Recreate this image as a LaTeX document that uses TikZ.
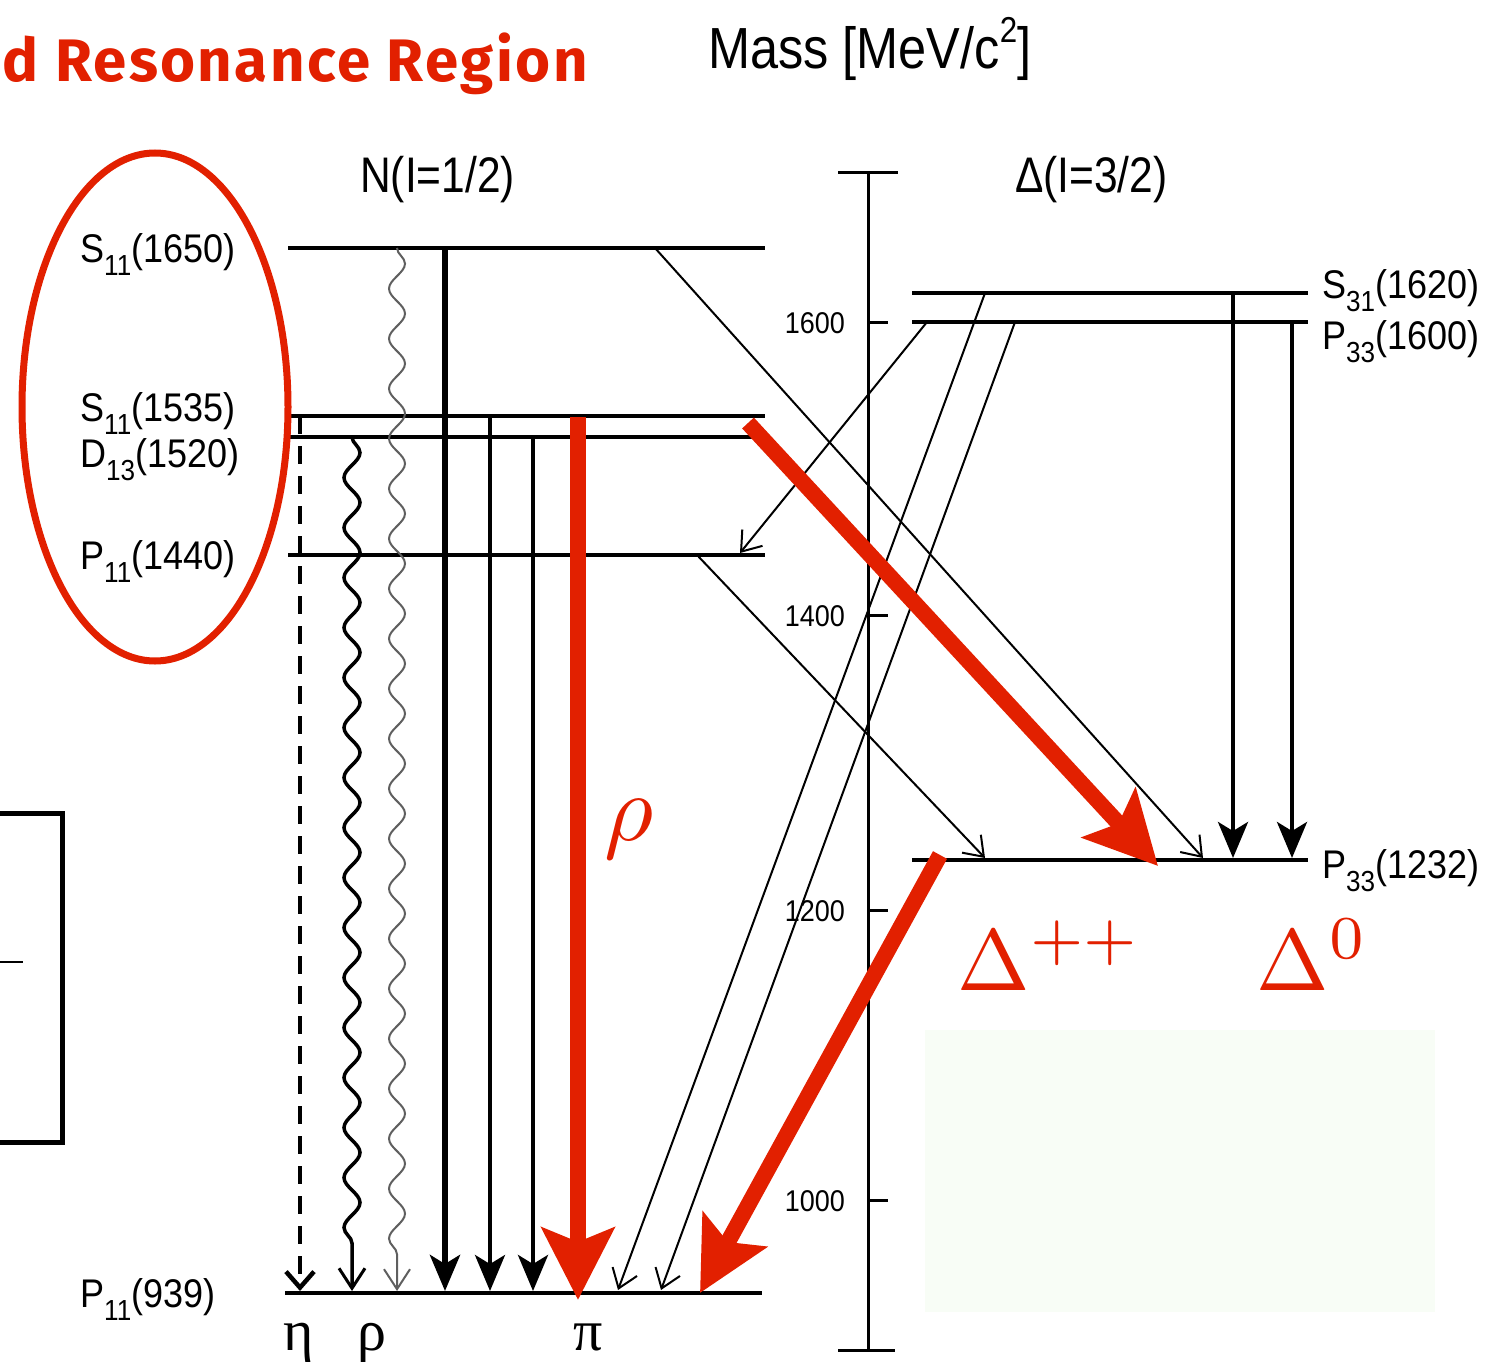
\documentclass[tikz,border=0pt]{standalone}
\usepackage[no-math]{fontspec}
\setmainfont{Liberation Sans}
\newfontfamily\greekfont{Liberation Serif}
\newfontfamily\titlefont{Fira Sans}[LetterSpace=4]
\usetikzlibrary{arrows.meta,decorations.pathmorphing}
\definecolor{hred}{RGB}{226,32,0}
\definecolor{pale}{RGB}{248,253,246}
\definecolor{wgray}{RGB}{95,95,95}
\newcommand\lvlname[3]{#1\raisebox{-13pt}{\fontsize{29}{29}\selectfont #2}(#3)}
\begin{document}
\begin{tikzpicture}[x=1pt,y=-1pt,
  lab/.style={inner sep=0pt, anchor=base west, font=\fontsize{40}{40}\selectfont, xscale=0.9},
  axlab/.style={inner sep=0pt, anchor=base east, font=\fontsize{30}{30}\selectfont, xscale=0.9},
  head/.style={inner sep=0pt, anchor=base west, font=\fontsize{50}{50}\selectfont, xscale=0.85},
  glab/.style={inner sep=0pt, anchor=base west, font=\greekfont\fontsize{58}{58}\selectfont},
  redmath/.style={inner sep=0pt, anchor=base west, text=hred},
  lvlline/.style={line width=3.5pt},
  axisline/.style={line width=3pt},
  thinarr/.style={line width=2pt, -{Straight Barb[length=18pt,width=26pt,line width=2pt]}},
  thickarr/.style={-{Stealth[length=36pt,width=30pt,inset=9pt]}},
  redarr/.style={hred, line width=16pt, -{Stealth[length=72pt,width=72pt,inset=14pt]}},
  wavy/.style={decorate, decoration={snake, segment length=50pt, amplitude=8pt, post length=30pt}},
  etaarr/.style={line width=4.5pt, dash pattern=on 18pt off 12pt, -{Straight Barb[length=16pt,width=28pt,line width=4.5pt]}}
]
\useasboundingbox (0,0) rectangle (1491,1362);
\clip (0,0) rectangle (1491,1362);

% pale box
\fill[pale] (925,1030) rectangle (1435,1312);

% title and headers
\node[inner sep=0pt, anchor=base east, text=hred, font=\titlefont\bfseries\fontsize{60}{60}\selectfont] (title) at (588,82) {d Resonance Region};
\node[inner sep=0pt, anchor=base west, font=\fontsize{58}{58}\selectfont, xscale=0.87] (mass) at (708,69) {Mass [MeV/c\raisebox{26pt}{\fontsize{36}{36}\selectfont 2}]};
\node[head] (hN) at (360,193) {N(I=1/2)};
\node[head] (hD) at (1015,193) {Δ(I=3/2)};

% axis
\coordinate (axtop) at (868,172);
\coordinate (axbot) at (868,1350);
\draw[axisline] (axtop) -- (axbot);
\draw[axisline] (838,172) -- (898,172);
\draw[axisline] (838,1350) -- (895,1350);
\foreach \yy/\lab in {322/1600, 615/1400, 910/1200, 1200/1000} {
  \draw[axisline] (868,\yy) -- (888,\yy);
  \node[axlab] at (845,\yy+11) {\lab};
}

% levels N
\coordinate (n1650w) at (288,248);  \coordinate (n1650e) at (765,248);
\coordinate (n1535w) at (290,416);  \coordinate (n1535e) at (765,416);
\coordinate (n1520w) at (290,437);  \coordinate (n1520e) at (765,437);
\coordinate (n1440w) at (288,555);  \coordinate (n1440e) at (765,555);
\coordinate (n939w)  at (285,1293); \coordinate (n939e)  at (762,1293);
\foreach \a/\b in {n1650w/n1650e, n1535w/n1535e, n1520w/n1520e, n1440w/n1440e, n939w/n939e}
  \draw[lvlline] (\a) -- (\b);
% levels Delta
\coordinate (d1620w) at (912,293);  \coordinate (d1620e) at (1308,293);
\coordinate (d1600w) at (912,322);  \coordinate (d1600e) at (1308,322);
\coordinate (d1232w) at (912,860);  \coordinate (d1232e) at (1308,860);
\foreach \a/\b in {d1620w/d1620e, d1600w/d1600e, d1232w/d1232e}
  \draw[lvlline] (\a) -- (\b);

% level labels
\node[lab] (l1650) at (80,262) {\lvlname{S}{11}{1650}};
\node[lab] (l1535) at (80,421) {\lvlname{S}{11}{1535}};
\node[lab] (l1520) at (80,467) {\lvlname{D}{13}{1520}};
\node[lab] (l1440) at (80,569) {\lvlname{P}{11}{1440}};
\node[lab] (l939)  at (80,1307) {\lvlname{P}{11}{939}};
\node[lab] (l1620) at (1322,298) {\lvlname{S}{31}{1620}};
\node[lab] (l1600) at (1322,349) {\lvlname{P}{33}{1600}};
\node[lab] (l1232) at (1322,878) {\lvlname{P}{33}{1232}};

% decay product labels
\node[glab] (eta) at (283,1350) {η};
\node[glab] (rho) at (357,1350) {ρ};
\node[glab] (pi)  at (573,1350) {π};

% transitions to the nucleon
\coordinate (etaS) at (300,416);  \coordinate (etaT) at (300,1291);
\coordinate (rhoS) at (352,437);  \coordinate (rhoT) at (352,1291);
\coordinate (rhoS2) at (397,248); \coordinate (rhoT2) at (397,1291);
\coordinate (piA) at (445,248);   \coordinate (piAT) at (445,1291);
\coordinate (piB) at (490,416);   \coordinate (piBT) at (490,1291);
\coordinate (piC) at (533,437);   \coordinate (piCT) at (533,1291);
\draw[etaarr] (etaS) -- (etaT);
\draw[wavy, line width=3.5pt, -{Straight Barb[length=20pt,width=26pt,line width=3pt]}] (rhoS) -- (rhoT);
\draw[wavy, wgray, line width=2pt, -{Straight Barb[length=20pt,width=26pt,line width=2pt]}] (rhoS2) -- (rhoT2);
\draw[thickarr, line width=6pt] (piA) -- (piAT);
\draw[thickarr, line width=4pt] (piB) -- (piBT);
\draw[thickarr, line width=4.5pt] (piC) -- (piCT);

% diagonal transitions
\coordinate (a1) at (655,248);  \coordinate (a1t) at (1203,858);
\coordinate (a2) at (697,555);  \coordinate (a2t) at (985,858);
\coordinate (a3) at (927,322);  \coordinate (a3t) at (740,553);
\coordinate (a4) at (985,293);  \coordinate (a4t) at (618,1290);
\coordinate (a5) at (1015,322); \coordinate (a5t) at (661,1290);
\draw[thinarr] (a1) -- (a1t);
\draw[thinarr] (a2) -- (a2t);
\draw[thinarr] (a3) -- (a3t);
\draw[thinarr] (a4) -- (a4t);
\draw[thinarr] (a5) -- (a5t);
% Delta verticals
\coordinate (v1) at (1233,293); \coordinate (v1t) at (1233,858);
\coordinate (v2) at (1292,322); \coordinate (v2t) at (1292,858);
\draw[thickarr, line width=4pt] (v1) -- (v1t);
\draw[thickarr, line width=4pt] (v2) -- (v2t);

% red annotations
\coordinate (r1) at (578,417);  \coordinate (r1t) at (578,1300);
\coordinate (r2) at (748,423);  \coordinate (r2t) at (1158,866);
\coordinate (r3) at (940,855);  \coordinate (r3t) at (700,1293);
\draw[redarr] (r1) -- (r1t);
\draw[redarr] (r2) -- (r2t);
\draw[redarr] (r3) -- (r3t);
\draw[hred, line width=7pt] (155,407) ellipse [x radius=133pt, y radius=254pt];

\node[redmath, scale=9.5] (rholab) at (603,840) {$\rho$};
\node[redmath, scale=8.7] (dpp) at (956,990) {$\Delta^{++}$};
\node[redmath, scale=8.7] (d0) at (1255,990) {$\Delta^{0}$};

% left box fragment
\draw[line width=5pt] (-20,813) rectangle (62,1142);
\draw[line width=2pt] (0,962) -- (23,962);
\end{tikzpicture}
\end{document}
